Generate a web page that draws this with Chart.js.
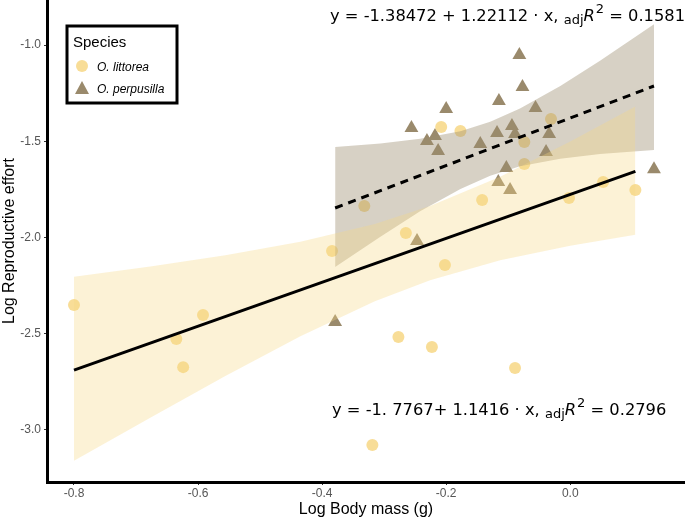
<!DOCTYPE html>
<html>
<head>
<meta charset="utf-8">
<script src="https://cdn.jsdelivr.net/npm/chart.js@4"></script>
<style>
  html, body { margin: 0; padding: 0; background: #fff; }
  #wrap { width: 685px; height: 519px; position: relative; }
</style>
</head>
<body>
<div id="wrap"><canvas id="chart" width="685" height="519"></canvas></div>
<script>
// Data
const xTicks = [-0.8, -0.6, -0.4, -0.2, 0.0];
const yTicks = [-3.0, -2.5, -2.0, -1.5, -1.0];

// O. littorea (circles)
const littX = [-0.800, -0.635, -0.592, -0.624, -0.384, -0.332, -0.265, -0.277, -0.223, -0.089, -0.319,
               -0.202, -0.142, -0.208, -0.177, -0.031, -0.074, -0.074, -0.002, 0.053, 0.105];
const littY = [-2.351, -2.528, -2.403, -2.674, -2.071, -1.837, -1.977, -2.518, -2.570, -2.679, -3.079,
               -2.143, -1.806, -1.426, -1.447, -1.385, -1.504, -1.618, -1.795, -1.712, -1.754];

// O. perpusilla (triangles)
const perpX = [-0.379, -0.247, -0.256, -0.231, -0.218, -0.213, -0.200, -0.145, -0.118, -0.115, -0.103,
               -0.116, -0.097, -0.094, -0.089, -0.082, -0.077, -0.056, -0.039, -0.034, 0.135];
const perpY = [-2.440, -2.019, -1.431, -1.499, -1.473, -1.551, -1.333, -1.515, -1.457, -1.291, -1.639,
               -1.712, -1.754, -1.421, -1.463, -1.052, -1.218, -1.327, -1.556, -1.463, -1.645];

// fitted lines (end points)
const littFitX = [-0.8, 0.105];
const littFitY = [-2.690, -1.657];
const perpFitX = [-0.379, 0.135];
const perpFitY = [-1.847, -1.213];

// confidence bands
const littBandX = [-0.8, -0.677, -0.556, -0.435, -0.315, -0.226, -0.113, 0.0, 0.105];
const littBandHi = [-2.204, -2.151, -2.093, -2.023, -1.930, -1.837, -1.684, -1.502, -1.319];
const littBandLo = [-3.160, -2.937, -2.720, -2.514, -2.332, -2.222, -2.118, -2.043, -1.986];
const perpBandX = [-0.379, -0.306, -0.242, -0.177, -0.129, -0.081, -0.016, 0.048, 0.135];
const perpBandHi = [-1.530, -1.512, -1.487, -1.448, -1.399, -1.330, -1.213, -1.082, -0.892];
const perpBandLo = [-2.154, -1.996, -1.864, -1.748, -1.679, -1.630, -1.591, -1.566, -1.545];

const littColor = 'rgba(246, 212, 125, 0.8)';
const perpColor = '#9a8a6c';
const littFill = 'rgba(245, 215, 130, 0.33)';
const perpFill = 'rgba(155, 139, 110, 0.40)';

function pts(xs, ys) {
    return xs.map((x, i) => ({ x: x, y: ys[i] }));
}

function bandLine(xs, ys, fill, color) {
    return {
        type: 'line',
        data: pts(xs, ys),
        showLine: true,
        borderWidth: 0,
        borderColor: 'rgba(0,0,0,0)',
        backgroundColor: color,
        pointRadius: 0,
        tension: 0,
        fill: fill,
        order: 1
    };
}

// equations and legend drawn on top
const decor = {
    id: 'decor',
    afterDraw(chart) {
        const ctx = chart.ctx;
        ctx.save();
        ctx.fillStyle = '#000';
        ctx.textBaseline = 'alphabetic';

        function equation(x, y, lead, tail) {
            ctx.font = '16.3px "DejaVu Sans"';
            ctx.fillText(lead, x, y);
            x += ctx.measureText(lead).width;
            ctx.font = '13px "DejaVu Sans"';
            ctx.fillText('adj', x, y + 3);
            x += ctx.measureText('adj').width;
            ctx.font = 'italic 16.3px "DejaVu Sans"';
            ctx.fillText('R', x, y);
            x += ctx.measureText('R').width + 1;
            ctx.font = '13px "DejaVu Sans"';
            ctx.fillText('2', x, y - 8);
            x += ctx.measureText('2').width;
            ctx.font = '16.3px "DejaVu Sans"';
            ctx.fillText(tail, x, y);
        }
        equation(330, 21, 'y = -1.38472 + 1.22112 \u00b7 x, ', ' = 0.1581');
        equation(332, 415, 'y = -1. 7767+ 1.1416 \u00b7 x, ', ' = 0.2796');

        // legend box
        ctx.lineWidth = 3;
        ctx.strokeStyle = '#000';
        ctx.fillStyle = '#fff';
        ctx.fillRect(67, 26, 110, 77);
        ctx.strokeRect(67, 26, 110, 77);
        ctx.fillStyle = '#000';
        ctx.font = '15px "Liberation Sans"';
        ctx.fillText('Species', 73, 47);
        ctx.font = 'italic 12px "Liberation Sans"';
        ctx.fillText('O. littorea', 97, 71);
        ctx.fillText('O. perpusilla', 97, 93);
        ctx.fillStyle = littColor;
        ctx.beginPath();
        ctx.arc(82, 66, 6, 0, Math.PI * 2);
        ctx.fill();
        ctx.fillStyle = perpColor;
        ctx.beginPath();
        ctx.moveTo(82, 81);
        ctx.lineTo(89, 94);
        ctx.lineTo(75, 94);
        ctx.closePath();
        ctx.fill();
        ctx.restore();
    }
};

new Chart(document.getElementById('chart'), {
    type: 'scatter',
    data: {
        datasets: [
            {
                type: 'line',
                data: pts(littFitX, littFitY),
                borderColor: '#000',
                borderWidth: 3,
                pointRadius: 0,
                fill: false,
                order: 0
            },
            {
                type: 'line',
                data: pts(perpFitX, perpFitY),
                borderColor: '#000',
                borderWidth: 3,
                borderDash: [8, 6],
                pointRadius: 0,
                fill: false,
                order: 0
            },
            bandLine(littBandX, littBandLo, false, littFill),
            bandLine(littBandX, littBandHi, '-1', littFill),
            bandLine(perpBandX, perpBandLo, false, perpFill),
            bandLine(perpBandX, perpBandHi, '-1', perpFill),
            {
                label: 'O. littorea',
                data: pts(littX, littY),
                pointStyle: 'circle',
                pointRadius: 6,
                pointBorderWidth: 0,
                backgroundColor: littColor,
                borderColor: 'rgba(0,0,0,0)',
                order: 2
            },
            {
                label: 'O. perpusilla',
                data: pts(perpX, perpY),
                pointStyle: 'triangle',
                pointRadius: 8,
                pointBorderWidth: 0,
                backgroundColor: perpColor,
                borderColor: 'rgba(0,0,0,0)',
                order: 2
            }
        ]
    },
    options: {
        responsive: false,
        animation: false,
        layout: { autoPadding: false, padding: 0 },
        plugins: {
            legend: { display: false },
            tooltip: { enabled: false }
        },
        scales: {
            x: {
                type: 'linear',
                min: -0.8435,
                max: 0.185,
                afterFit(scale) {
                    scale.height = 37;
                    scale.paddingLeft = 0;
                    scale.paddingRight = 0;
                },
                afterBuildTicks(scale) { scale.ticks = xTicks.map(v => ({ value: v })); },
                border: { display: true, color: '#000', width: 3 },
                grid: { display: true, drawOnChartArea: false, drawTicks: true, tickLength: 3, color: '#333' },
                ticks: {
                    padding: 1,
                    color: '#555',
                    font: { family: '"Liberation Sans Narrow", "Liberation Sans"', size: 12 },
                    callback: v => v.toFixed(1)
                },
                title: {
                    display: true,
                    text: 'Log Body mass (g)',
                    color: '#000',
                    font: { family: '"Liberation Sans Narrow", "Liberation Sans"', size: 16 },
                    padding: { top: 0, bottom: 0 }
                }
            },
            y: {
                type: 'linear',
                min: -3.271,
                max: -0.766,
                afterFit(scale) {
                    scale.width = 47;
                    scale.paddingTop = 0;
                    scale.paddingBottom = 0;
                },
                afterBuildTicks(scale) { scale.ticks = yTicks.map(v => ({ value: v })); },
                border: { display: true, color: '#000', width: 3 },
                grid: { display: true, drawOnChartArea: false, drawTicks: true, tickLength: 3, color: '#333' },
                ticks: {
                    padding: 3,
                    color: '#555',
                    font: { family: '"Liberation Sans Narrow", "Liberation Sans"', size: 12 },
                    callback: v => v.toFixed(1)
                },
                title: {
                    display: true,
                    text: 'Log Reproductive effort',
                    color: '#000',
                    font: { family: '"Liberation Sans Narrow", "Liberation Sans"', size: 16 },
                    padding: { top: 0, bottom: 0 }
                }
            }
        }
    },
    plugins: [decor]
});
</script>
</body>
</html>
